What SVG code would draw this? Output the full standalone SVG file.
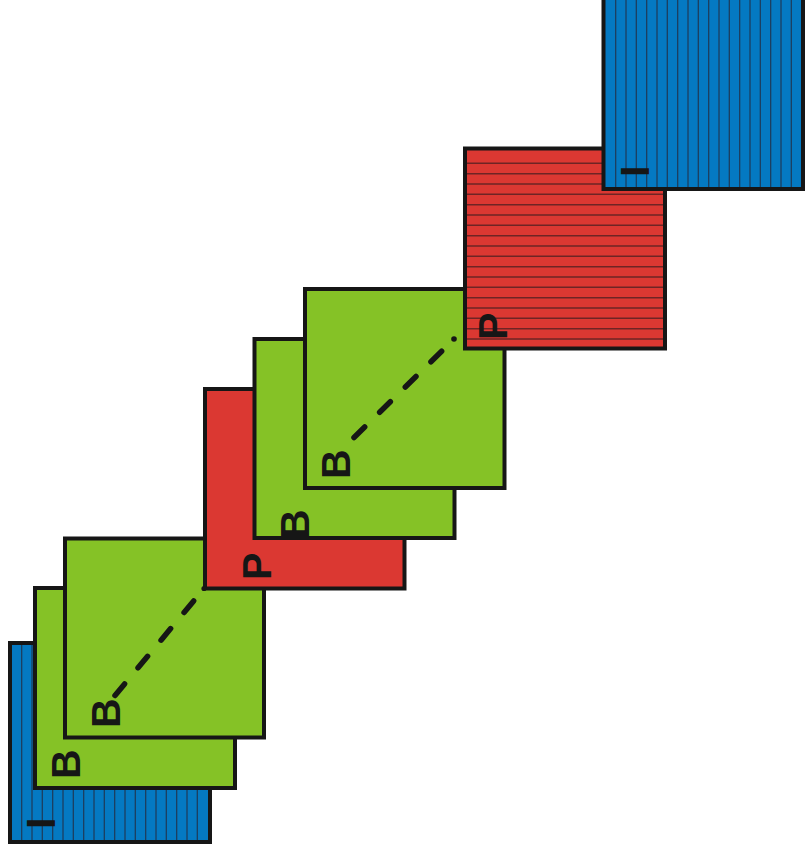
<svg xmlns="http://www.w3.org/2000/svg" width="805" height="857" viewBox="0 0 805 857">
<style>
.frame{stroke:#161616;stroke-width:4}
.i{fill:#0479c2}
.b{fill:#85c226}
.p{fill:#db3832}
.vs{stroke:#1f3a58;stroke-width:1.2;fill:none}
.hs{stroke:#6e2424;stroke-width:1.4;fill:none}
.lbl{font-family:"Liberation Sans",Arial,sans-serif;font-weight:bold;font-size:41px;fill:#161616}
.dash{stroke:#161616;stroke-width:5.5;stroke-linecap:round;stroke-dasharray:15 21;fill:none}
.dot{fill:#161616}
</style>
<rect width="805" height="857" fill="#ffffff"/>
<g id="frame-I0">
<rect class="frame i" x="10" y="643" width="200" height="199"/>
<path class="vs" d="M21.7 645V840M32 645V840M42.3 645V840M52.7 645V840M63 645V840M73.3 645V840M83.7 645V840M94 645V840M104.3 645V840M114.7 645V840M125 645V840M135.3 645V840M145.7 645V840M156 645V840M166.3 645V840M176.7 645V840M187 645V840M197.3 645V840"/>
<text class="lbl" transform="translate(55,829) rotate(-90)">I</text>
</g>
<g id="frame-B1">
<rect class="frame b" x="35" y="588" width="200" height="200"/>
<text class="lbl" transform="translate(80,779) rotate(-90)">B</text>
</g>
<g id="frame-B2">
<rect class="frame b" x="65" y="538.5" width="199" height="199"/>
<text class="lbl" transform="translate(120,728) rotate(-90)">B</text>
</g>
<g id="frame-P1">
<rect class="frame p" x="205" y="389" width="199.5" height="199.5"/>
<text class="lbl" transform="translate(271,580) rotate(-90)">P</text>
</g>
<g id="frame-B3">
<rect class="frame b" x="254.5" y="339" width="200" height="199"/>
<text class="lbl" transform="translate(309,539) rotate(-90)">B</text>
</g>
<g id="frame-B4">
<rect class="frame b" x="305" y="289" width="199.5" height="199"/>
<text class="lbl" transform="translate(349.5,479) rotate(-90)">B</text>
</g>
<g id="frame-P2">
<rect class="frame p" x="465" y="148.5" width="200" height="200"/>
<path class="hs" d="M467 163.3H663M467 173.7H663M467 184H663M467 194.3H663M467 204.7H663M467 215H663M467 225.3H663M467 235.7H663M467 246H663M467 256.3H663M467 266.7H663M467 277H663M467 287.3H663M467 297.7H663M467 308H663M467 318.3H663M467 328.7H663M467 339H663"/>
<text class="lbl" transform="translate(507,340) rotate(-90)">P</text>
</g>
<g id="frame-I1">
<rect class="frame i" x="603.5" y="-11" width="199.5" height="200"/>
<path class="vs" d="M615.7 -9V187M626 -9V187M636.3 -9V187M646.7 -9V187M657 -9V187M667.3 -9V187M677.7 -9V187M688 -9V187M698.3 -9V187M708.7 -9V187M719 -9V187M729.3 -9V187M739.7 -9V187M750 -9V187M760.3 -9V187M770.7 -9V187M781 -9V187M791.3 -9V187"/>
<text class="lbl" transform="translate(649,177) rotate(-90)">I</text>
</g>
<g id="connectors">
<path class="dash" d="M115 695.5L204 588.5" style="stroke-dashoffset:0"/>
<circle class="dot" cx="204" cy="588.5" r="2.6"/>
<path class="dash" d="M354 437.5L454 339"/>
<circle class="dot" cx="454" cy="339" r="2.8"/>
</g>
</svg>
